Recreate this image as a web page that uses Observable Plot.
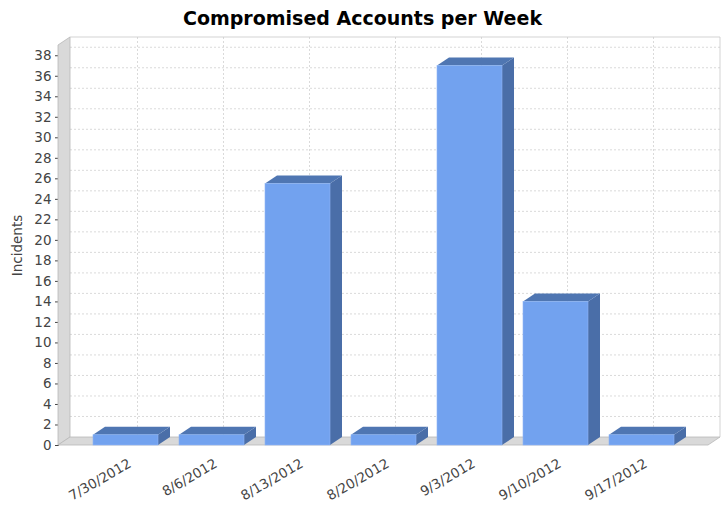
<!DOCTYPE html>
<html><head><meta charset="utf-8">
<script src="https://cdn.jsdelivr.net/npm/d3@7"></script>
<script src="https://cdn.jsdelivr.net/npm/@observablehq/plot@0.6"></script>
<style>
body{margin:0;background:#fff;font-family:"DejaVu Sans",sans-serif;}
#title{height:30px;padding-top:7px;box-sizing:border-box;text-align:center;font-weight:bold;font-size:19px;color:#000;line-height:22px;}
</style></head><body>
<div id="title">Compromised Accounts per Week</div>
<div id="chart"></div>
<script>
const weeks = ["7/30/2012","8/6/2012","8/13/2012","8/20/2012","9/3/2012","9/10/2012","9/17/2012"];
const incidents = [1, 1, 25.5, 1, 37, 14, 1];
const yTicks = [0,2,4,6,8,10,12,14,16,18,20,22,24,26,28,30,32,34,36,38];
const data = weeks.map((week, i) => ({week, incidents: incidents[i]}));

const DX = 12, DY = 8;
const pts = a => a.map(p => p.join(",")).join(" ");

function walls(index, scales, values, dims) {
  const {x, y} = scales;
  const g = d3.create("svg:g");
  const L = dims.marginLeft, R = dims.width - dims.marginRight;
  const B = y(0), T = y(39);
  g.append("polygon").attr("points", pts([[L+DX,T-DY],[R+DX,T-DY],[R+DX,B-DY],[L+DX,B-DY]])).attr("fill","#fff");
  for (const t of yTicks) {
    if (t === 0) continue;
    g.append("line").attr("x1", L+DX).attr("x2", R+DX).attr("y1", y(t)-DY).attr("y2", y(t)-DY)
      .attr("stroke","#d0d0d0").attr("stroke-dasharray","2,2").attr("stroke-width",0.8);
  }
  const bw = x.bandwidth ? x.bandwidth() : 0;
  for (const w of weeks) {
    const cx = x(w) + bw/2 + DX;
    g.append("line").attr("x1", cx).attr("x2", cx).attr("y1", T-DY).attr("y2", B-DY)
      .attr("stroke","#d0d0d0").attr("stroke-dasharray","2,2").attr("stroke-width",0.8);
  }
  g.append("polygon").attr("points", pts([[L,T],[L+DX,T-DY],[L+DX,B-DY],[L,B]])).attr("fill","#d9d9d9").attr("stroke","#b8b8b8").attr("stroke-width",0.8);
  g.append("polygon").attr("points", pts([[L,B],[L+DX,B-DY],[R+DX,B-DY],[R,B]])).attr("fill","#d9d9d9").attr("stroke","#b8b8b8").attr("stroke-width",0.8);
  g.append("polyline").attr("points", pts([[L+DX,T-DY],[R+DX,T-DY],[R+DX,B-DY]])).attr("fill","none").attr("stroke","#c8c8c8").attr("stroke-width",0.8);
  return g.node();
}

function depthFaces(index, scales) {
  const {x, y} = scales;
  const g = d3.create("svg:g");
  const bw = x.bandwidth();
  const yb = y(0);
  for (const d of data) {
    const x0 = x(d.week), x1 = x0 + bw, yt = y(d.incidents);
    g.append("polygon").attr("points", pts([[x1,yt],[x1+DX,yt-DY],[x1+DX,yb-DY],[x1,yb]])).attr("fill","#4a6ea8");
    g.append("polygon").attr("points", pts([[x0,yt],[x0+DX,yt-DY],[x1+DX,yt-DY],[x1,yt]])).attr("fill","#4f76b2");
  }
  return g.node();
}

const chart = Plot.plot({
  width: 725,
  height: 476,
  marginLeft: 58,
  marginRight: 17,
  marginTop: 15,
  marginBottom: 61,
  style: {fontFamily: "DejaVu Sans, sans-serif", fontSize: "13.5px", color: "#444", background: "#fff"},
  x: {domain: weeks, paddingInner: 0.25, paddingOuter: 0.375, label: null},
  y: {domain: [0, 39], ticks: yTicks, tickSize: 3, tickPadding: 4, label: "Incidents", labelAnchor: "center", labelArrow: "none", labelOffset: 46, line: true},
  marks: [
    walls,
    depthFaces,
    Plot.rectY(data, {x: "week", y: "incidents", fill: "#72a2ef", stroke: "#8fb6f3", strokeWidth: 0.6}),
    Plot.axisX({tickRotate: -30, tickSize: 0, tickPadding: 17, dx: 4, label: null})
  ]
});
document.getElementById("chart").appendChild(chart);
</script>
</body></html>
